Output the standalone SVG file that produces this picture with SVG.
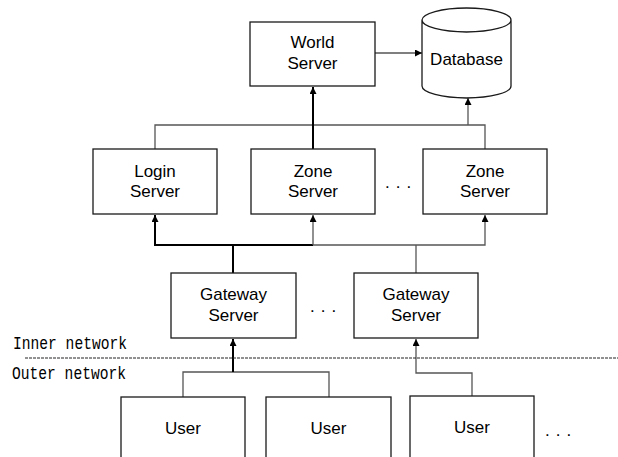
<svg xmlns="http://www.w3.org/2000/svg" width="618" height="457" viewBox="0 0 618 457">
<defs>
<style>
.box{fill:#fff;stroke:#1a1a1a;stroke-width:1.3}
.t{font-family:"Liberation Sans",Arial,sans-serif;font-size:17px;fill:#000;text-anchor:middle}
.m{font-family:"Liberation Mono","Courier New",monospace;font-size:19px;fill:#000}
.thin{fill:none;stroke:#555;stroke-width:1.3}
.thick{fill:none;stroke:#000;stroke-width:2}
.dots{font-family:"Liberation Sans",Arial,sans-serif;font-size:17px;fill:#000;letter-spacing:6px}
</style>
<marker id="ah" viewBox="0 0 10 10" refX="10" refY="5" markerWidth="7" markerHeight="7" markerUnits="userSpaceOnUse" orient="auto"><path d="M0,0 L10,5 L0,10 Z" fill="#000"/></marker>
</defs>
<rect width="618" height="457" fill="#fff"/>
<g id="connectors">
<path class="thin" d="M155,149 V125 H485 V149"/>
<path class="thick" d="M313,149 V87" marker-end="url(#ah)"/>
<path class="thin" d="M468,125 V98" marker-end="url(#ah)"/>
<path class="thin" d="M375,53 H422" marker-end="url(#ah)"/>
<path class="thick" d="M233,273 V245 H155 V215" marker-end="url(#ah)"/>
<path class="thick" d="M233,245 H313"/>
<path class="thin" d="M313,245 V215" marker-end="url(#ah)"/>
<path class="thin" d="M313,245 H485 V215" marker-end="url(#ah)"/>
<path class="thin" d="M416,273 V245"/>
<path class="thin" d="M183,397 V372 H329 V397"/>
<path class="thick" d="M233,372 V339" marker-end="url(#ah)"/>
<path class="thin" d="M472,396 V373 H416 V339" marker-end="url(#ah)"/>
<line x1="25" y1="358" x2="618" y2="358" stroke="#222" stroke-width="1" stroke-dasharray="3,1"/>
</g>
<g id="world"><rect class="box" x="250" y="22" width="125" height="64"/><text class="t" x="312.5" y="48">World</text><text class="t" x="312.5" y="69">Server</text></g>
<g id="database"><path class="box" d="M422,20 V86 A44.5,12 0 0 0 511,86 V20 A44.5,12 0 0 0 422,20 A44.5,12 0 0 0 511,20"/><text class="t" x="466.5" y="65">Database</text></g>
<g id="login"><rect class="box" x="93" y="149" width="124" height="65"/><text class="t" x="155" y="177">Login</text><text class="t" x="155" y="197">Server</text></g>
<g id="zone1"><rect class="box" x="251" y="149" width="124" height="65"/><text class="t" x="313" y="177">Zone</text><text class="t" x="313" y="197">Server</text></g>
<g id="zone2"><rect class="box" x="423" y="149" width="124" height="65"/><text class="t" x="485" y="177">Zone</text><text class="t" x="485" y="197">Server</text></g>
<text class="dots" x="385" y="188">...</text>
<g id="gateway1"><rect class="box" x="171" y="273" width="125" height="65"/><text class="t" x="233.5" y="300">Gateway</text><text class="t" x="233.5" y="321">Server</text></g>
<g id="gateway2"><rect class="box" x="354" y="273" width="124" height="65"/><text class="t" x="416" y="300">Gateway</text><text class="t" x="416" y="321">Server</text></g>
<text class="dots" x="310" y="312">...</text>
<text class="m" x="13" y="349" textLength="114" lengthAdjust="spacingAndGlyphs">Inner network</text>
<text class="m" x="12" y="379" textLength="114" lengthAdjust="spacingAndGlyphs">Outer network</text>
<g id="user1"><rect class="box" x="121" y="397" width="124" height="80"/><text class="t" x="183" y="434">User</text></g>
<g id="user2"><rect class="box" x="266" y="397" width="125" height="80"/><text class="t" x="328.5" y="434">User</text></g>
<g id="user3"><rect class="box" x="410" y="396" width="124" height="80"/><text class="t" x="472" y="433">User</text></g>
<text class="dots" x="545" y="436">...</text>
</svg>
